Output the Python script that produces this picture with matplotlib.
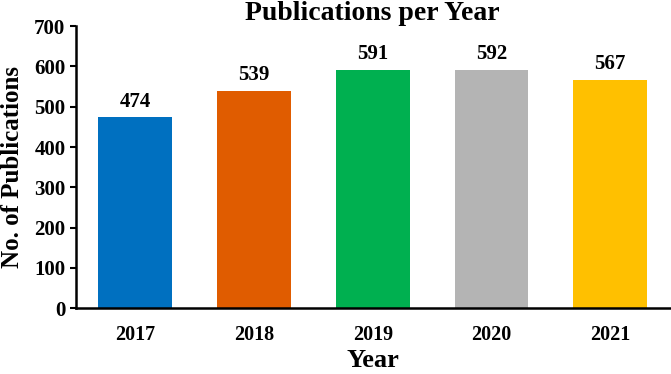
import matplotlib
matplotlib.use("Agg")
import matplotlib.pyplot as plt

years = ["2017", "2018", "2019", "2020", "2021"]
counts = [474, 539, 591, 592, 567]
colors = ["#0070C0", "#E05C00", "#00B050", "#B4B4B4", "#FFC000"]

plt.rcParams["font.family"] = ["Liberation Serif", "DejaVu Serif"]
plt.rcParams["font.weight"] = "bold"

fig = plt.figure(figsize=(6.71, 3.74), dpi=100)
ax = fig.add_axes([0.113, 0.176, 0.885, 0.754])

bars = ax.bar(range(len(years)), counts, width=0.62, color=colors)
for b, v in zip(bars, counts):
    ax.text(b.get_x() + b.get_width() / 2, v + 14, str(v), ha="center", va="bottom",
            fontsize=15, fontweight="bold")

ax.set_xlim(-0.5, len(years) - 0.5)
ax.set_ylim(0, 700)
ax.set_yticks(range(0, 701, 100))
ax.set_xticks(range(len(years)))
ax.set_xticklabels(years)
ax.tick_params(axis="x", length=0, pad=12, labelsize=14.5)
ax.tick_params(axis="y", length=4, width=1.5, direction="out", labelsize=15)
for lab in ax.get_xticklabels() + ax.get_yticklabels():
    lab.set_fontweight("bold")

ax.spines["top"].set_visible(False)
ax.spines["right"].set_visible(False)
ax.spines["left"].set_linewidth(1.8)
ax.spines["bottom"].set_linewidth(1.8)

ax.set_xlabel("Year", fontsize=19, fontweight="bold", labelpad=3)
ax.set_ylabel("No. of Publications", fontsize=18, fontweight="bold", labelpad=7)
ax.set_title("Publications per Year", fontsize=20, fontweight="bold", pad=1)

fig.savefig("out.png", dpi=100)
